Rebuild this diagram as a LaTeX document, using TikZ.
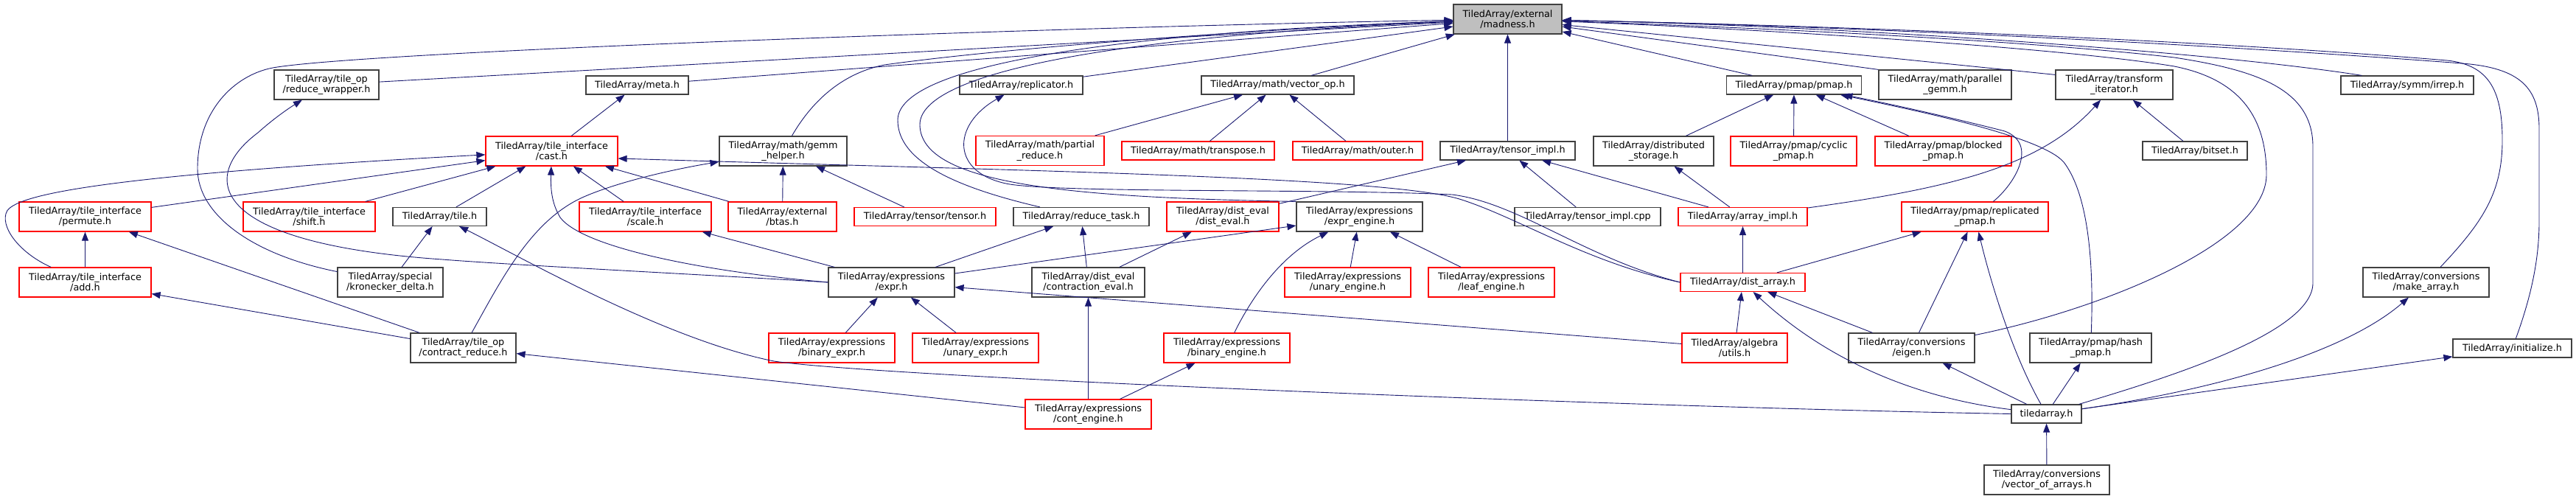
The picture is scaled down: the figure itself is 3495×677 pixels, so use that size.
\documentclass[tikz,border=0pt]{standalone}
\usepackage{fontspec}
\setmainfont{DejaVu Sans}
\usetikzlibrary{arrows.meta,calc}
\definecolor{edgecol}{HTML}{191970}
\definecolor{boxcol}{HTML}{404040}
\definecolor{redcol}{HTML}{FF0000}
\definecolor{rootfill}{HTML}{BFBFBF}
\begin{document}
\begin{tikzpicture}[x=1pt,y=-1pt,
  nb/.style={draw=boxcol, line width=1.2pt, fill=white, inner sep=0pt, align=center, font=\fontsize{12.8}{14.5}\selectfont},
  nr/.style={nb, draw=redcol},
  na/.style={minimum height=25pt},
  nc/.style={minimum height=40pt},
  e/.style={draw=edgecol, line width=0.9pt, -{Triangle[length=12pt,width=9pt]}}
]
\useasboundingbox (0,0) rectangle (3495,677);

% row 1
\node[nb,nc,fill=rootfill,minimum width=147pt] (madness) at (2045.5,26) {TiledArray/external\\/madness.h};
% row 2
\node[nb,nc,minimum width=142pt] (rw) at (443,115) {TiledArray/tile\_op\\/reduce\_wrapper.h};
\node[nb,na,minimum width=139pt] (meta) at (864.5,115.5) {TiledArray/meta.h};
\node[nb,na,minimum width=167pt] (rep) at (1385.5,115.5) {TiledArray/replicator.h};
\node[nb,na,minimum width=207pt] (vop) at (1733.5,115.5) {TiledArray/math/vector\_op.h};
\node[nb,na,minimum width=183pt] (pmap) at (2434,115.5) {TiledArray/pmap/pmap.h};
\node[nb,nc,minimum width=180pt] (pgemm) at (2639,115) {TiledArray/math/parallel\\\_gemm.h};
\node[nb,nc,minimum width=159pt] (titer) at (2868.5,115) {TiledArray/transform\\\_iterator.h};
\node[nb,na,minimum width=180pt] (irrep) at (3266,115.5) {TiledArray/symm/irrep.h};
% row 3
\node[nr,nc,minimum width=179pt] (cast) at (748.5,205) {TiledArray/tile\_interface\\/cast.h};
\node[nb,nc,minimum width=173pt] (gemm) at (1062.5,205) {TiledArray/math/gemm\\\_helper.h};
\node[nr,nc,minimum width=174pt] (preduce) at (1411,204.5) {TiledArray/math/partial\\\_reduce.h};
\node[nr,na,minimum width=207pt] (transp) at (1625.5,204.5) {TiledArray/math/transpose.h};
\node[nr,na,minimum width=176pt] (outer) at (1842,204.5) {TiledArray/math/outer.h};
\node[nb,na,minimum width=183pt] (timpl) at (2045.5,204.5) {TiledArray/tensor\_impl.h};
\node[nb,nc,minimum width=163pt] (dstor) at (2243.5,205) {TiledArray/distributed\\\_storage.h};
\node[nr,nc,minimum width=171pt] (cyclic) at (2433.5,205) {TiledArray/pmap/cyclic\\\_pmap.h};
\node[nr,nc,minimum width=185pt] (blocked) at (2636.5,205) {TiledArray/pmap/blocked\\\_pmap.h};
\node[nb,na,minimum width=142pt] (bitset) at (2978,204.5) {TiledArray/bitset.h};
% row 4
\node[nr,nc,minimum width=179pt] (perm) at (115.5,294) {TiledArray/tile\_interface\\/permute.h};
\node[nr,nc,minimum width=179pt] (shift) at (419.5,294) {TiledArray/tile\_interface\\/shift.h};
\node[nb,na,minimum width=127pt] (tile) at (596.5,294) {TiledArray/tile.h};
\node[nr,nc,minimum width=179pt] (scale) at (875.5,294) {TiledArray/tile\_interface\\/scale.h};
\node[nr,nc,minimum width=147pt] (btas) at (1061.5,294) {TiledArray/external\\/btas.h};
\node[nr,na,minimum width=192pt] (tensor) at (1255,294) {TiledArray/tensor/tensor.h};
\node[nb,na,minimum width=184pt] (rtask) at (1467,294) {TiledArray/reduce\_task.h};
\node[nr,nc,minimum width=152pt] (deval) at (1659,294) {TiledArray/dist\_eval\\/dist\_eval.h};
\node[nb,nc,minimum width=171pt] (eng) at (1844.5,294) {TiledArray/expressions\\/expr\_engine.h};
\node[nb,na,minimum width=198pt] (timplcpp) at (2154,294) {TiledArray/tensor\_impl.cpp};
\node[nr,na,minimum width=175pt] (aimpl) at (2364.5,294) {TiledArray/array\_impl.h};
\node[nr,nc,minimum width=199pt] (repl) at (2679.5,294) {TiledArray/pmap/replicated\\\_pmap.h};
% row 5
\node[nr,nc,minimum width=179pt] (add) at (115.5,383) {TiledArray/tile\_interface\\/add.h};
\node[nb,nc,minimum width=143pt] (kron) at (529.5,383) {TiledArray/special\\/kronecker\_delta.h};
\node[nb,nc,minimum width=171pt] (expr) at (1209.5,383) {TiledArray/expressions\\/expr.h};
\node[nb,nc,minimum width=153pt] (ceval) at (1476.5,383) {TiledArray/dist\_eval\\/contraction\_eval.h};
\node[nr,nc,minimum width=171pt] (ueng) at (1828.5,383) {TiledArray/expressions\\/unary\_engine.h};
\node[nr,nc,minimum width=171pt] (leng) at (2023.5,383) {TiledArray/expressions\\/leaf\_engine.h};
\node[nr,na,minimum width=169pt] (darr) at (2364.5,383) {TiledArray/dist\_array.h};
\node[nb,nc,minimum width=171pt] (mkarr) at (3291.5,383) {TiledArray/conversions\\/make\_array.h};
% row 6
\node[nb,nc,minimum width=143pt] (cred) at (628.5,472) {TiledArray/tile\_op\\/contract\_reduce.h};
\node[nr,nc,minimum width=171pt] (bexpr) at (1128.5,472) {TiledArray/expressions\\/binary\_expr.h};
\node[nr,nc,minimum width=171pt] (uexpr) at (1323.5,472) {TiledArray/expressions\\/unary\_expr.h};
\node[nr,nc,minimum width=171pt] (beng) at (1664.5,472) {TiledArray/expressions\\/binary\_engine.h};
\node[nr,nc,minimum width=143pt] (utils) at (2353.5,472) {TiledArray/algebra\\/utils.h};
\node[nb,nc,minimum width=171pt] (eigen) at (2593.5,472) {TiledArray/conversions\\/eigen.h};
\node[nb,nc,minimum width=165pt] (hpmap) at (2836.5,472) {TiledArray/pmap/hash\\\_pmap.h};
\node[nb,na,minimum width=161pt] (init) at (3408.5,472.5) {TiledArray/initialize.h};
% row 7
\node[nr,nc,minimum width=171pt] (ceng) at (1476.5,562) {TiledArray/expressions\\/cont\_engine.h};
\node[nb,na,minimum width=95pt] (tarr) at (2776.5,561.5) {tiledarray.h};
% row 8
\node[nb,nc,minimum width=170pt] (voa) at (2777,651) {TiledArray/conversions\\/vector\_of\_arrays.h};

% ---- edges into madness.h
\draw[e] (rw) -- (madness);
\draw[e] (meta) -- (madness);
\draw[e] (rep) -- (madness);
\draw[e] (vop) -- (madness);
\draw[e] (timpl) -- (madness);
\draw[e] (pmap) -- (madness);
\draw[e] (pgemm.north west) -- (madness);
\draw[e] ($(titer.north west)+(0,7)$) -- (madness);
\draw[e] ($(irrep.north west)+(29,0)$) .. controls (3000,70) and (2500,35) .. (madness);
\draw[e] (gemm) .. controls (1100,140) and (1140,100) .. (1200,88) .. controls (1400,60) and (1800,35) .. (madness);
\draw[e] (kron) .. controls (340,345) and (268,290) .. (268,229) .. controls (268,150) and (318,102) .. (370,92) .. controls (500,69) and (1500,35) .. (madness);
\draw[e] (rtask) .. controls (1300,255) and (1218,220) .. (1218,163) .. controls (1218,90) and (1500,45) .. (madness);
\draw[e] (eng.north west) .. controls (1450,268) and (1250,250) .. (1248,170) .. controls (1246,100) and (1500,50) .. (madness);
\draw[e] (eigen) .. controls (2850,420) and (3075,330) .. (3075,237) .. controls (3075,150) and (3030,106) .. (2950,90) .. controls (2800,65) and (2400,40) .. (madness);
\draw[e] (tarr) .. controls (2950,510) and (3138,450) .. (3138,384) -- (3138,199) .. controls (3138,120) and (3060,95) .. (2950,78) .. controls (2750,55) and (2400,38) .. (madness);
\draw[e] (mkarr) .. controls (3370,300) and (3395,260) .. (3395,190) .. controls (3395,120) and (3375,88) .. (3320,82) .. controls (3000,55) and (2500,35) .. (madness);
\draw[e] (init) .. controls (3435,400) and (3445,350) .. (3445,300) -- (3445,175) .. controls (3445,120) and (3420,92) .. (3340,86) .. controls (3000,60) and (2500,35) .. (madness);

% ---- left part
\draw[e] (expr.west) .. controls (1000,375) and (700,360) .. (600,352) .. controls (280,330) and (270,240) .. (350,180) .. controls (370,162) and (390,148) .. (rw);
\draw[e] (kron) -- (tile);
\draw[e] (cast) -- (meta);
\draw[e] (add) .. controls (30,345) and (2,312) .. (8,290) .. controls (12,268) and (100,240) .. (cast);
\draw[e] (perm) -- (cast);
\draw[e] (shift) -- (cast);
\draw[e] (tile) -- (cast);
\draw[e] (expr.west) .. controls (950,368) and (790,335) .. (760,295) .. controls (748,275) and (747,255) .. (cast);
\draw[e] (scale) -- (cast);
\draw[e] (btas) -- (cast);
\draw[e] (darr.west) .. controls (2150,355) and (2060,295) .. (1980,270) .. controls (1880,240) and (1400,232) .. ($(cast.east)+(0,10)$);
\draw[e] (add) -- (perm);
\draw[e] (cred) -- (perm);
\draw[e] (cred) -- (add);
\draw[e] (cred) .. controls (680,380) and (720,300) .. (790,268) .. controls (830,250) and (900,232) .. (gemm);
\draw[e] (btas) -- (gemm);
\draw[e] (tensor) -- (gemm);
\draw[e] (tarr.west) .. controls (2200,552) and (1200,512) .. (1050,490) .. controls (900,460) and (700,345) .. (tile);
\draw[e] (ceng) -- (cred);
\draw[e] (expr) -- (scale);

% ---- middle part
\draw[e] (bexpr) -- (expr);
\draw[e] (uexpr) -- (expr);
\draw[e] (utils) -- (expr);
\draw[e] (expr) -- (eng);
\draw[e] (expr) -- (rtask);
\draw[e] (ceval) -- (rtask);
\draw[e] (ceval) -- (deval);
\draw[e] (ceng) -- (ceval);
\draw[e] (ceng) -- (beng);
\draw[e] (beng) .. controls (1700,400) and (1740,345) .. (eng);
\draw[e] (ueng) -- (eng);
\draw[e] (leng) -- (eng);
\draw[e] (preduce) -- (vop);
\draw[e] (transp) -- (vop);
\draw[e] (outer) -- (vop);
\draw[e] (deval) -- (timpl);
\draw[e] (timplcpp) -- (timpl);
\draw[e] (aimpl) -- (timpl);
\draw[e] (darr.west) .. controls (2150,350) and (2060,275) .. (1970,264) .. controls (1800,256) and (1450,262) .. (1370,250) .. controls (1290,236) and (1290,170) .. (rep);

% ---- right part
\draw[e] (aimpl) -- (dstor);
\draw[e] (dstor) -- (pmap);
\draw[e] (cyclic) -- (pmap);
\draw[e] (blocked) -- (pmap);
\draw[e] (repl) .. controls (2735,248) and (2765,195) .. (2720,178) .. controls (2650,160) and (2560,140) .. (pmap);
\draw[e] (hpmap) .. controls (2840,380) and (2838,270) .. (2800,220) .. controls (2770,185) and (2600,150) .. (pmap);
\draw[e] (aimpl) .. controls (2650,255) and (2770,225) .. (titer);
\draw[e] (bitset) -- (titer);
\draw[e] (darr) -- (aimpl);
\draw[e] (darr) -- (repl);
\draw[e] (eigen) -- (repl);
\draw[e] (tarr) .. controls (2730,480) and (2700,380) .. (repl);
\draw[e] (utils) -- (darr);
\draw[e] (tarr) .. controls (2600,540) and (2480,490) .. (darr);
\draw[e] (eigen) -- (darr);
\draw[e] (tarr) -- (eigen);
\draw[e] (tarr) -- (hpmap);
\draw[e] (tarr) .. controls (3000,530) and (3180,480) .. (mkarr);
\draw[e] (tarr) -- (init);
\draw[e] (voa) -- (tarr);
\end{tikzpicture}
\end{document}
